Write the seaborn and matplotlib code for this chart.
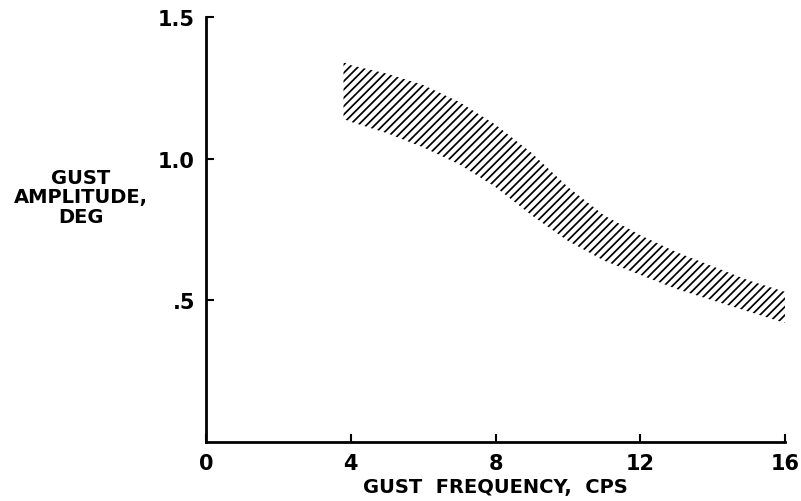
import numpy as np
import pandas as pd
import matplotlib
matplotlib.use("Agg")
import matplotlib.pyplot as plt
import seaborn as sns

# band (gust frequency in cps, amplitude in deg)
freq = [3.8, 4, 5, 6, 7, 8, 9, 10, 11, 12, 13, 14, 15, 16]
upper = [1.34, 1.33, 1.30, 1.26, 1.20, 1.12, 1.02, 0.90, 0.80, 0.73, 0.67, 0.62, 0.57, 0.53]
lower = [1.14, 1.13, 1.09, 1.04, 0.98, 0.90, 0.80, 0.71, 0.64, 0.59, 0.54, 0.50, 0.46, 0.42]

x_ticks = [0, 4, 8, 12, 16]
x_labels = ["0", "4", "8", "12", "16"]
y_ticks = [0.5, 1.0, 1.5]
y_labels = [".5", "1.0", "1.5"]

sns.set_style("ticks")
plt.rcParams["font.family"] = ["DejaVu Sans"]
plt.rcParams["hatch.linewidth"] = 1.25
plt.rcParams["hatch.color"] = "black"
plt.rcParams["text.color"] = "black"
plt.rcParams["xtick.color"] = "black"
plt.rcParams["ytick.color"] = "black"
plt.rcParams["axes.edgecolor"] = "black"

df = pd.DataFrame({"freq": freq, "upper": upper, "lower": lower})

fig = plt.figure(figsize=(8.01, 5.02), dpi=100)
ax = fig.add_axes([206 / 801, 1 - 443 / 502, (785 - 206) / 801, (443 - 18) / 502])

# invisible edges, the band itself is only hatching
sns.lineplot(data=df, x="freq", y="upper", ax=ax, linewidth=0, color="black")
sns.lineplot(data=df, x="freq", y="lower", ax=ax, linewidth=0, color="black")
ax.fill_between(df["freq"], df["lower"], df["upper"], facecolor="none",
                edgecolor="black", hatch="////", linewidth=0)

ax.set_xlim(0, 16)
ax.set_ylim(0, 1.5)
ax.set_xticks(x_ticks)
ax.set_xticklabels(x_labels)
ax.set_yticks(y_ticks)
ax.set_yticklabels(y_labels)
ax.tick_params(direction="in", length=6, width=1.5, labelsize=15, pad=8)
for lab in ax.get_xticklabels() + ax.get_yticklabels():
    lab.set_fontweight("bold")

sns.despine(ax=ax)
ax.spines["left"].set_linewidth(2)
ax.spines["bottom"].set_linewidth(2)

ax.set_xlabel("GUST  FREQUENCY,  CPS", fontsize=14, fontweight="bold", labelpad=3,
              color="black")
ax.set_ylabel("")
fig.text(81 / 801, 1 - 198 / 502, "GUST\nAMPLITUDE,\nDEG", ha="center", va="center",
         fontsize=14, fontweight="bold", linespacing=1.05, color="black")

fig.savefig("out.png", dpi=100)
